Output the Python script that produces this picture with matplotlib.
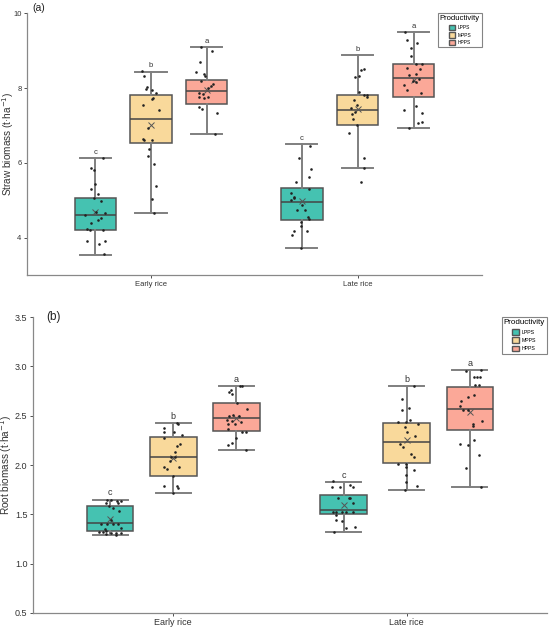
import matplotlib
matplotlib.use("Agg")
import matplotlib.pyplot as plt
from matplotlib.patches import Patch

plt.rcParams['font.family'] = ['Liberation Sans', 'DejaVu Sans']

# order of groups: Early LPPS, MPPS, HPPS, Late LPPS, MPPS, HPPS
seasons = ["Early rice", "Late rice"]
levels = ["LPPS", "MPPS", "HPPS"]
letters = ["c", "b", "a", "c", "b", "a"]

straw_whishi = [6.12, 8.44, 9.09, 6.50, 8.87, 9.49]
straw_q3 = [5.07, 7.80, 8.21, 5.32, 7.80, 8.63]
straw_med = [4.60, 7.17, 7.91, 4.95, 7.41, 8.26]
straw_q1 = [4.20, 6.52, 7.57, 4.46, 7.02, 7.77]
straw_whislo = [3.54, 4.65, 6.77, 3.72, 5.87, 6.94]
straw_mean = [4.69, 7.01, 7.95, 4.97, 7.44, 8.21]

straw_pts = [
    [6.13, 5.86, 5.81, 5.44, 5.29, 5.18, 4.98, 5.05, 4.67, 4.69, 4.52, 4.46, 4.40, 4.22, 4.20, 4.20, 3.91, 3.91, 3.82, 3.55, 4.61],
    [8.45, 8.33, 8.02, 7.98, 7.95, 7.86, 7.73, 7.70, 7.55, 7.42, 6.92, 6.65, 6.60, 6.60, 6.38, 6.18, 5.97, 5.37, 5.04, 4.65],
    [9.10, 9.00, 8.69, 8.42, 8.37, 8.32, 8.18, 8.12, 8.05, 7.99, 7.87, 7.83, 7.77, 7.75, 7.72, 7.49, 7.45, 7.34, 6.77],
    [6.44, 6.14, 5.84, 5.63, 5.48, 5.29, 5.19, 5.10, 5.06, 5.00, 4.88, 4.74, 4.74, 4.54, 4.50, 4.42, 4.31, 4.19, 4.19, 4.06, 3.72],
    [8.48, 8.50, 8.29, 8.32, 7.89, 7.80, 7.80, 7.75, 7.67, 7.55, 7.46, 7.35, 7.30, 7.17, 7.01, 6.80, 6.14, 5.87, 5.50],
    [9.50, 9.28, 9.19, 9.06, 8.85, 8.64, 8.64, 8.53, 8.51, 8.38, 8.35, 8.24, 8.20, 8.16, 8.08, 7.95, 7.87, 7.51, 7.40, 7.33, 7.06, 7.09, 6.94],
]
straw_jit = [
    [0.2, -0.09, -0.02, 0.0, -0.09, 0.07, 0.15, -0.03, 0.24, 0.03, 0.14, 0.08, -0.1, -0.19, -0.12, 0.18, -0.2, 0.24, 0.1, 0.22, -0.24],
    [-0.21, -0.18, -0.1, -0.11, 0.02, 0.11, 0.05, 0.03, -0.2, 0.2, -0.07, -0.2, -0.16, 0.02, -0.05, -0.07, 0.08, 0.11, 0.02, 0.08],
    [-0.15, 0.12, -0.17, -0.27, -0.06, -0.04, -0.15, 0.14, 0.1, 0.03, -0.19, -0.09, 0.04, -0.2, -0.07, -0.19, -0.12, 0.24, 0.2],
    [0.2, -0.07, 0.23, 0.18, -0.15, 0.18, -0.26, -0.18, -0.18, -0.26, 0.01, -0.13, 0.07, 0.15, 0.18, -0.03, -0.03, -0.2, 0.13, -0.25, -0.03],
    [0.07, 0.14, -0.06, 0.02, 0.04, 0.15, 0.22, 0.22, -0.09, -0.01, -0.17, -0.07, -0.14, -0.12, -0.01, -0.2, 0.15, 0.14, 0.07],
    [-0.2, -0.15, 0.09, -0.06, -0.07, 0.07, 0.2, -0.15, 0.15, 0.05, -0.11, 0.13, -0.02, 0.07, -0.24, -0.17, 0.19, 0.05, -0.23, 0.2, 0.1, 0.21, -0.1],
]

root_whishi = [1.65, 2.43, 2.80, 1.83, 2.80, 2.96]
root_q3 = [1.58, 2.28, 2.63, 1.70, 2.43, 2.79]
root_med = [1.41, 2.08, 2.48, 1.54, 2.23, 2.57]
root_q1 = [1.33, 1.89, 2.35, 1.50, 2.02, 2.36]
root_whislo = [1.29, 1.72, 2.15, 1.32, 1.75, 1.78]
root_mean = [1.45, 2.07, 2.48, 1.59, 2.25, 2.54]

root_pts = [
    [1.65, 1.65, 1.64, 1.64, 1.61, 1.61, 1.56, 1.58, 1.53, 1.44, 1.40, 1.40, 1.40, 1.40, 1.36, 1.35, 1.33, 1.32, 1.32, 1.31, 1.31, 1.31, 1.30, 1.29],
    [2.43, 2.42, 2.38, 2.34, 2.34, 2.30, 2.27, 2.21, 2.19, 2.13, 2.08, 2.08, 2.04, 1.98, 1.96, 1.98, 1.89, 1.79, 1.79, 1.77, 1.72],
    [2.80, 2.80, 2.74, 2.76, 2.72, 2.63, 2.57, 2.50, 2.51, 2.50, 2.46, 2.45, 2.44, 2.42, 2.42, 2.37, 2.34, 2.34, 2.27, 2.22, 2.20, 2.15],
    [1.84, 1.78, 1.78, 1.80, 1.78, 1.67, 1.67, 1.67, 1.62, 1.52, 1.52, 1.52, 1.52, 1.52, 1.49, 1.44, 1.43, 1.36, 1.37, 1.32],
    [2.80, 2.67, 2.58, 2.56, 2.46, 2.44, 2.44, 2.42, 2.39, 2.34, 2.29, 2.21, 2.18, 2.11, 2.08, 2.01, 2.01, 1.98, 1.95, 1.90, 1.83, 1.79, 1.75],
    [2.95, 2.96, 2.89, 2.89, 2.89, 2.81, 2.81, 2.71, 2.69, 2.65, 2.60, 2.56, 2.56, 2.45, 2.42, 2.40, 2.25, 2.21, 2.20, 2.10, 1.97, 1.78],
]
root_jit = [
    [-0.06, 0.03, 0.14, 0.23, -0.09, 0.17, 0.07, -0.02, 0.19, 0.01, -0.2, -0.06, 0.07, 0.16, 0.24, -0.11, -0.08, -0.24, -0.16, 0.01, 0.12, 0.23, -0.09, 0.12],
    [0.09, 0.11, -0.2, -0.2, 0.01, 0.19, -0.2, 0.14, 0.09, 0.03, -0.04, 0.04, -0.07, -0.19, -0.13, 0.12, 0.0, -0.19, 0.09, 0.11, 0.0],
    [0.13, 0.07, -0.16, -0.11, -0.09, 0.01, 0.22, -0.16, -0.06, 0.06, -0.2, -0.09, 0.1, -0.17, -0.03, -0.17, 0.13, 0.2, 0.0, -0.09, -0.17, 0.21],
    [-0.24, -0.25, -0.07, 0.14, 0.19, -0.12, 0.12, 0.14, 0.19, -0.24, -0.16, -0.04, 0.05, 0.19, -0.16, -0.16, -0.04, 0.05, 0.24, -0.21],
    [0.16, -0.11, 0.05, -0.11, 0.06, -0.18, -0.01, 0.24, -0.04, 0.01, 0.17, -0.14, -0.08, 0.09, 0.15, -0.18, -0.01, -0.02, 0.15, -0.01, -0.01, 0.22, -0.04],
    [-0.08, 0.24, 0.09, 0.15, 0.21, 0.11, 0.2, 0.08, -0.05, -0.18, -0.22, -0.15, -0.05, 0.25, 0.07, 0.07, 0.09, -0.21, -0.03, 0.2, -0.09, 0.24],
]

colors = ["#45c2b1", "#f9d99b", "#fba898"]
box_w = 0.2
dodge = 0.27


def draw_panel(ax, whislo, q1, med, q3, whishi, mean, pts, jit, ylabel, tag, ylim, yticks,
               fs, label_fs, label_x, tag_x, leg_fs):
    stats = []
    pos = []
    for i in range(6):
        stats.append(dict(whislo=whislo[i], q1=q1[i], med=med[i], q3=q3[i],
                          whishi=whishi[i], mean=mean[i], fliers=[]))
        pos.append(1 + i // 3 + (i % 3 - 1) * dodge)
    bp = ax.bxp(stats, positions=pos, widths=box_w, capwidths=0.15,
                patch_artist=True, showmeans=True,
                boxprops=dict(edgecolor="#555555", linewidth=1.1),
                medianprops=dict(color="#444444", linewidth=1.1),
                whiskerprops=dict(color="#7f7f7f", linewidth=1.4),
                capprops=dict(color="#7f7f7f", linewidth=1.4),
                meanprops=dict(marker="x", markeredgecolor="#555555",
                               markersize=4.5, markeredgewidth=0.7),
                zorder=2)
    for i, b in enumerate(bp["boxes"]):
        b.set_facecolor(colors[i % 3])
    for i in range(6):
        xs = [pos[i] + d * box_w for d in jit[i]]
        ax.scatter(xs, pts[i], s=3.5, color="#222222", zorder=3, linewidths=0)
        ax.annotate(letters[i], (pos[i], whishi[i]), xytext=(0, 1.5),
                    textcoords="offset points", ha="center", va="bottom",
                    fontsize=fs, color="#333333")
    ax.set_xlim(0.4, 2.6)
    ax.set_ylim(*ylim)
    ax.set_yticks(yticks)
    ax.set_xticks([1, 2])
    ax.set_xticklabels(seasons)
    ax.set_ylabel(ylabel, fontsize=label_fs, color="#333333")
    ax.yaxis.set_label_coords(label_x, 0.5)
    for s in ["top", "right"]:
        ax.spines[s].set_visible(False)
    for s in ["left", "bottom"]:
        ax.spines[s].set_color("#888888")
        ax.spines[s].set_linewidth(0.9)
    ax.tick_params(labelsize=fs, colors="#333333", length=2, width=0.6, pad=2)
    ax.text(tag_x, 1.0, tag, transform=ax.transAxes, fontsize=fs + 2,
            ha="left", va="bottom" if tag == "(a)" else "center", color="#222222")
    handles = [Patch(facecolor=colors[k], edgecolor="#555555", label=levels[k]) for k in range(3)]
    leg = ax.legend(handles=handles, title="Productivity", loc="upper right",
                    bbox_to_anchor=(1.0, 1.0), borderaxespad=0.0,
                    fontsize=leg_fs, title_fontsize=leg_fs + 2,
                    frameon=True, fancybox=False, handlelength=1.3, handleheight=1.3,
                    borderpad=0.4, labelspacing=0.5, handletextpad=0.5)
    leg.get_frame().set_edgecolor("#666666")
    leg.get_frame().set_linewidth(0.8)


fig = plt.figure(figsize=(5.5, 6.28), dpi=100)
ax1 = fig.add_axes([0.049, 0.562, 0.827, 0.417])
ax2 = fig.add_axes([0.060, 0.024, 0.9345, 0.471])

draw_panel(ax1, straw_whislo, straw_q1, straw_med, straw_q3, straw_whishi, straw_mean,
           straw_pts, straw_jit, "Straw biomass (t·ha$^{-1}$)", "(a)", (3, 10), [4, 6, 8, 10],
           5.5, 7.2, -0.024, 0.012, 3.5)
draw_panel(ax2, root_whislo, root_q1, root_med, root_q3, root_whishi, root_mean,
           root_pts, root_jit, "Root biomass (t·ha$^{-1}$)", "(b)", (0.5, 3.5),
           [0.5, 1.0, 1.5, 2.0, 2.5, 3.0, 3.5], 6.5, 7.2, -0.036, 0.026, 3.8)
ax2.set_yticklabels(["0.5", "1.0", "1.5", "2.0", "2.5", "3.0", "3.5"])

fig.savefig("out.png", dpi=100)
